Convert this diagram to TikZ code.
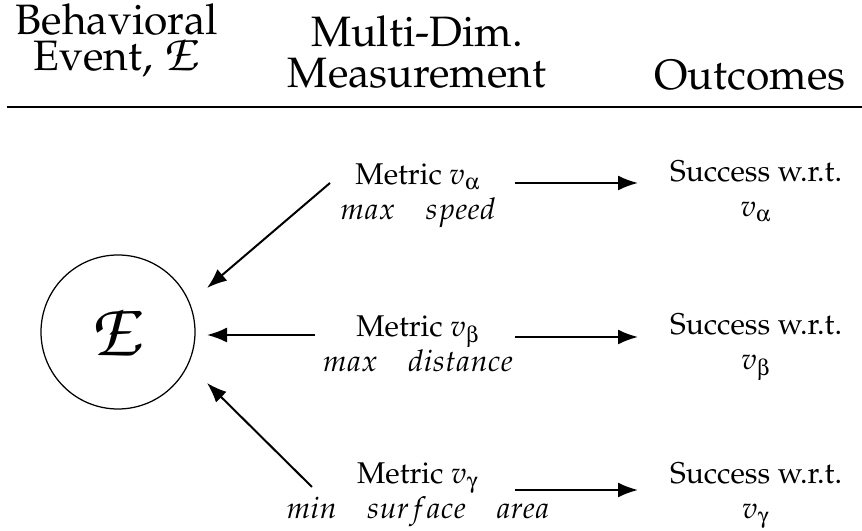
\documentclass[tikz,border=0pt]{standalone}
\usepackage[T1]{fontenc}
\usepackage{mathpazo}
\usepackage[Symbol]{upgreek}
\DeclareMathAlphabet{\mathpzc}{OT1}{pzc}{m}{it}
\usetikzlibrary{arrows.meta}
\begin{document}
\begin{tikzpicture}[x=0.4pt, y=-0.4pt,
    arr/.style={line width=0.8pt, -{Latex[length=8pt,width=6pt]}},
    head/.style={font=\fontsize{17}{14.5}\selectfont, align=center, anchor=base, inner sep=0pt},
    txt/.style={font=\fontsize{12}{14}\selectfont, align=center, anchor=base, inner sep=0pt}]
    \useasboundingbox (0,0) rectangle (862,531);

    % Column headers
    \node[head] (hev) at (117,71) {Behavioral\\Event, {\fontsize{21}{14.5}\selectfont$\mathpzc{E}$}};
    \node[head, font=\fontsize{17}{16.7}\selectfont] (hms) at (417,88) {Multi-Dim.\\Measurement};
    \node[head] (hoc) at (750,90) {Outcomes};
    \draw[line width=0.6pt] (7,107) -- (862,107);

    % Event circle
    \node[draw, circle, line width=0.5pt, minimum size=61.6pt, inner sep=0pt,
        font=\fontsize{31}{31}\selectfont] (ev) at (118,332) {$\mathpzc{E}$};

    % Metrics
    \node[txt] (ma) at (418,220) {Metric $v_{\upalpha}$\\$max\quad speed$};
    \node[txt] (mb) at (418,372) {Metric $v_{\upbeta}$\\$max\quad distance$};
    \node[txt] (mg) at (418,519) {Metric $v_{\upgamma}$\\$min\quad surface\quad area$};

    % Outcomes
    \node[txt] (sa) at (756,217) {Success w.r.t.\\$v_{\upalpha}$};
    \node[txt] (sb) at (756,370) {Success w.r.t.\\$v_{\upbeta}$};
    \node[txt] (sg) at (756,519) {Success w.r.t.\\$v_{\upgamma}$};

    % Metric -> event
    \draw[arr] ([shift={(-88,-37)}]ma.base) -- ([shift={(89,-44)}]ev.center);
    \draw[arr] ([shift={(-103,-37)}]mb.base) -- ([shift={(89,3)}]ev.center);
    \draw[arr] ([shift={(-106,-32)}]mg.base) -- ([shift={(89,51)}]ev.center);

    % Metric -> outcome
    \draw[arr] ([shift={(97,-37)}]ma.base) -- ([shift={(-118,-34)}]sa.base);
    \draw[arr] ([shift={(97,-35)}]mb.base) -- ([shift={(-118,-33)}]sb.base);
    \draw[arr] ([shift={(97,-29)}]mg.base) -- ([shift={(-118,-29)}]sg.base);
\end{tikzpicture}
\end{document}
